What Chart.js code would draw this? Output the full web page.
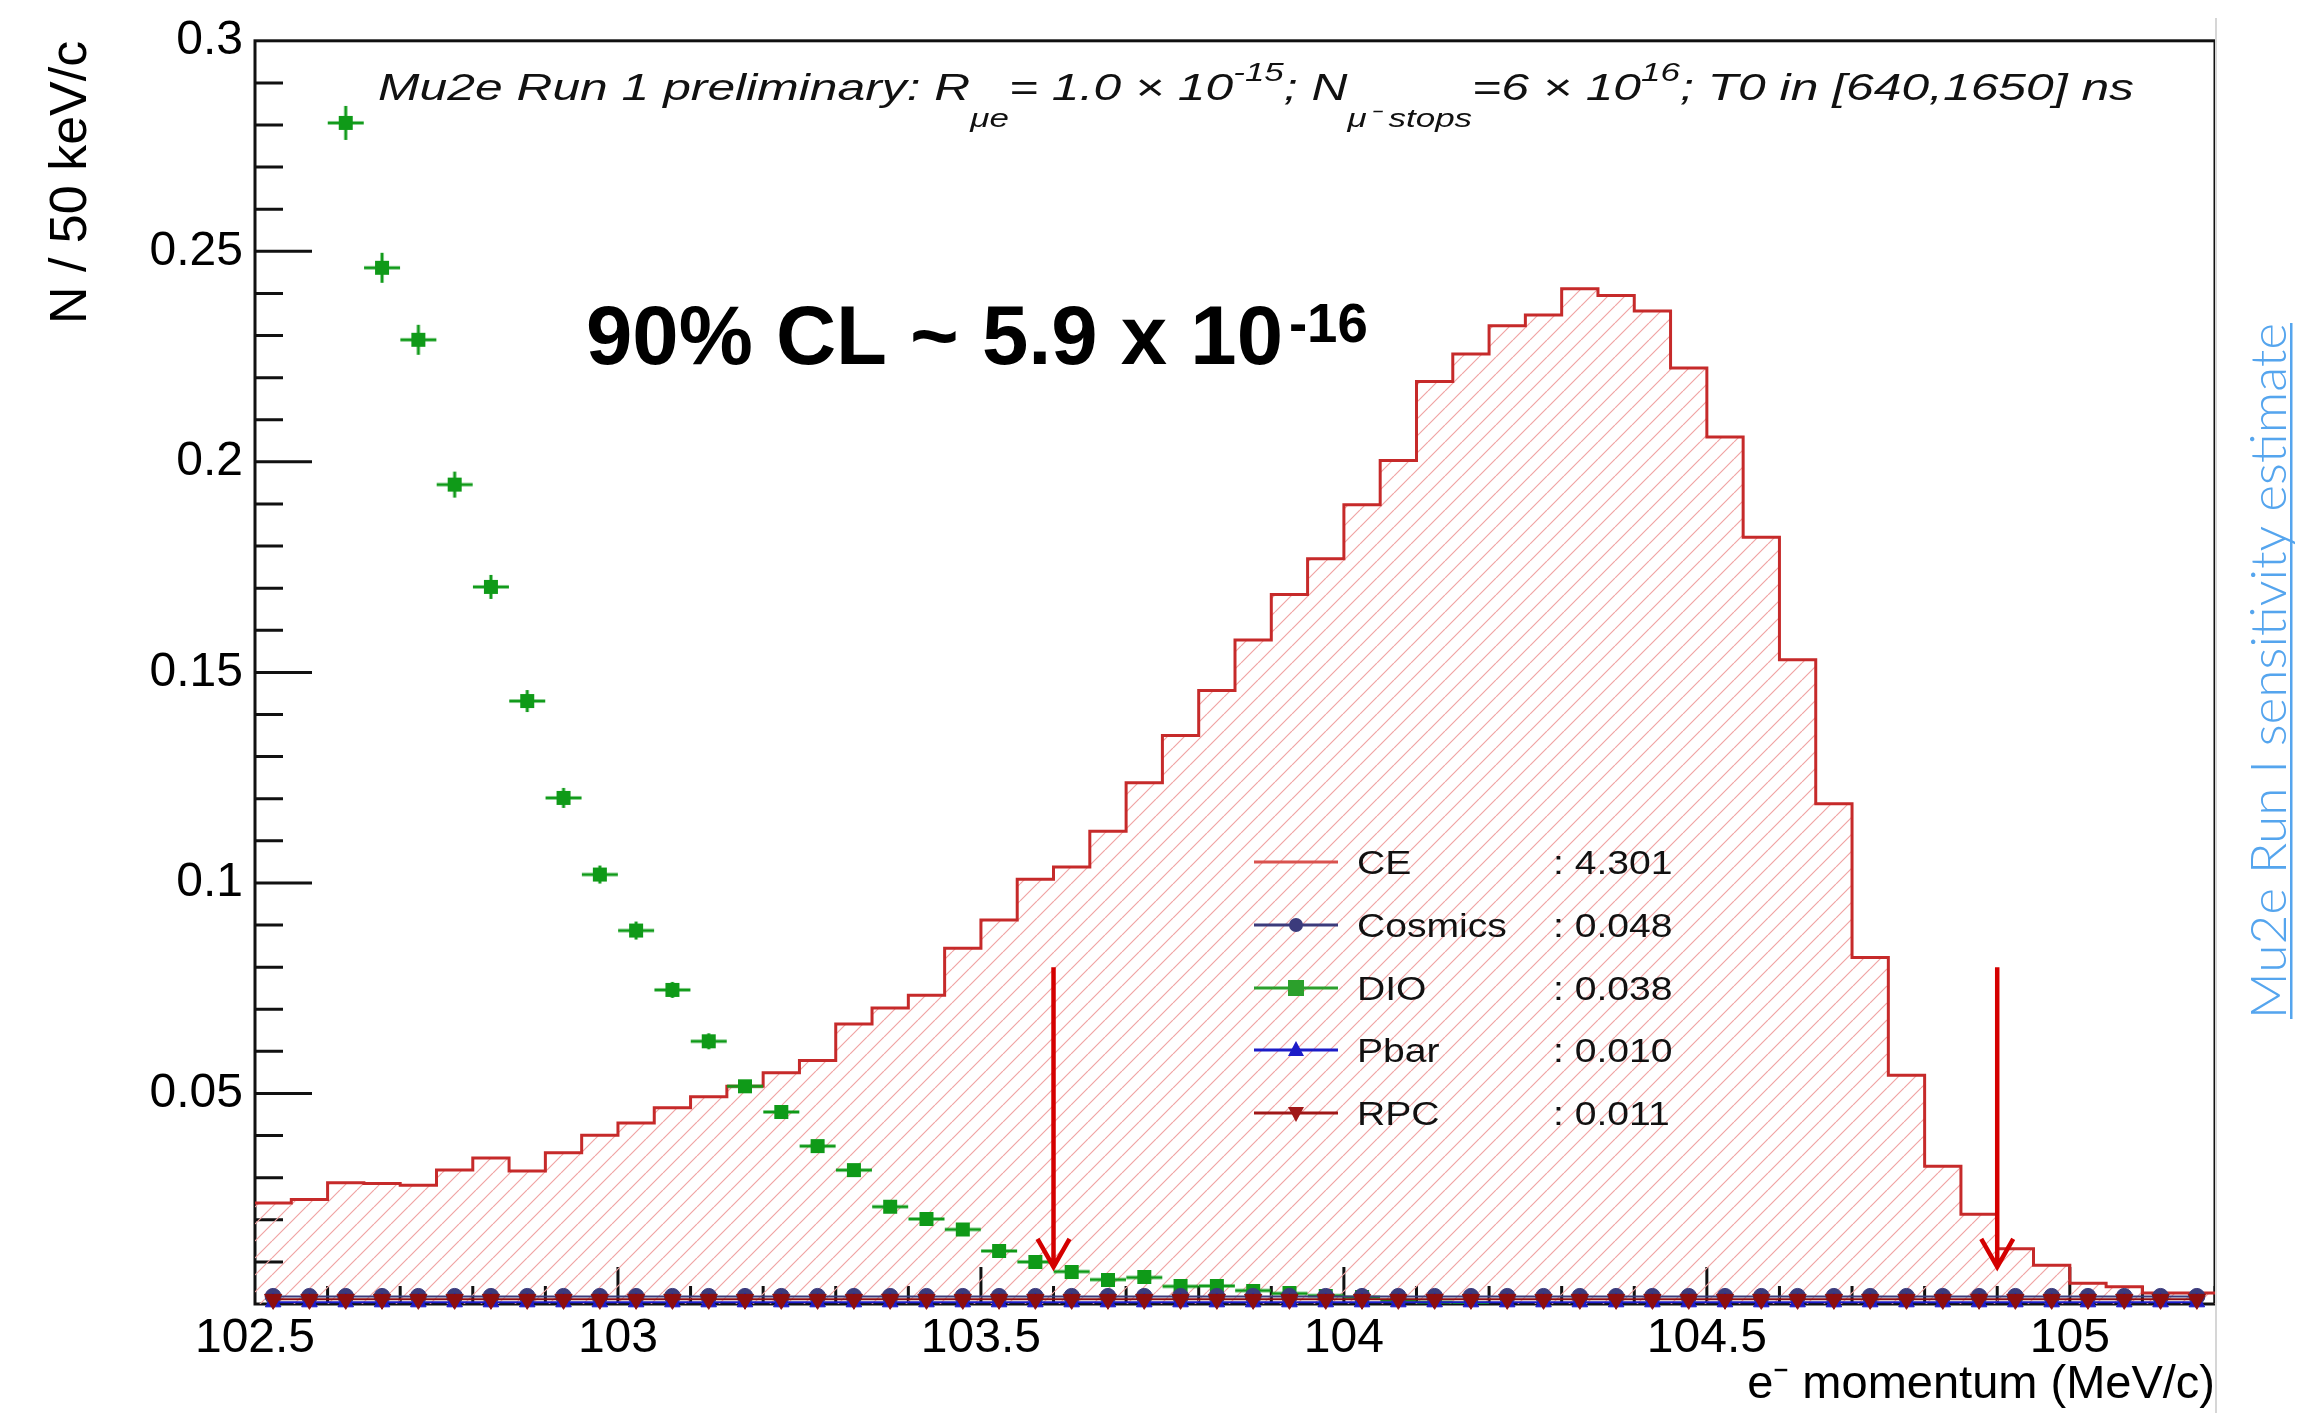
<!DOCTYPE html>
<html>
<head>
<meta charset="utf-8">
<script src="https://cdn.jsdelivr.net/npm/chart.js@4.4.1/dist/chart.umd.min.js"></script>
<style>
  html, body { margin: 0; padding: 0; background: #fff; }
  #wrap { width: 2300px; height: 1413px; }
</style>
</head>
<body>
<div id="wrap"><canvas id="chart" width="2300" height="1413"></canvas></div>
<script>
// binning: 50 keV bins from 102.5 MeV/c
const binLow = 102.5;
const binWidth = 0.05;

const ceValues = [
  0.0237, 0.0240, 0.0248, 0.0288, 0.0286, 0.0282, 0.0318, 0.0347, 0.0316, 0.0359,
  0.0401, 0.0430, 0.0466, 0.0492, 0.0517, 0.0549, 0.0578, 0.0665, 0.0703, 0.0733,
  0.0845, 0.0912, 0.1009, 0.1038, 0.1123, 0.1238, 0.1350, 0.1457, 0.1577, 0.1685,
  0.1770, 0.1898, 0.2003, 0.2191, 0.2256, 0.2323, 0.2349, 0.2411, 0.2395, 0.2358,
  0.2223, 0.2059, 0.1821, 0.1530, 0.1188, 0.0823, 0.0543, 0.0327, 0.0213, 0.0131,
  0.0092, 0.0049, 0.0041, 0.0026
];

const dioValues = [
  null, null, 0.2805, 0.2461, 0.2290, 0.1946, 0.1703, 0.1432, 0.1202, 0.1020,
  0.0887, 0.0746, 0.0624, 0.0517, 0.0456, 0.0375, 0.0318, 0.0231, 0.0202, 0.0177,
  0.0126, 0.0100, 0.0077, 0.0058, 0.0063, 0.0042, 0.0043, 0.0032, 0.0025, 0.0020,
  0.0016, 0.0008, 0.0004, 0.0002, null, null, null, null, null, null,
  null, null, null, null, null, null, null, null, null, null,
  null, null, null, null
];

const cosmicsValues = [
  0.0018, 0.0018, 0.0018, 0.0018, 0.0018, 0.0018, 0.0018, 0.0018, 0.0018, 0.0018,
  0.0018, 0.0018, 0.0018, 0.0018, 0.0018, 0.0018, 0.0018, 0.0018, 0.0018, 0.0018,
  0.0018, 0.0018, 0.0018, 0.0018, 0.0018, 0.0018, 0.0018, 0.0018, 0.0018, 0.0018,
  0.0018, 0.0018, 0.0018, 0.0018, 0.0018, 0.0018, 0.0018, 0.0018, 0.0018, 0.0018,
  0.0018, 0.0018, 0.0018, 0.0018, 0.0018, 0.0018, 0.0018, 0.0018, 0.0018, 0.0018,
  0.0018, 0.0018, 0.0018, 0.0018
];

const pbarValues = [
  0.0004, 0.0004, 0.0004, 0.0004, 0.0004, 0.0004, 0.0004, 0.0004, 0.0004, 0.0004,
  0.0004, 0.0004, 0.0004, 0.0004, 0.0004, 0.0004, 0.0004, 0.0004, 0.0004, 0.0004,
  0.0004, 0.0004, 0.0004, 0.0004, 0.0004, 0.0004, 0.0004, 0.0004, 0.0004, 0.0004,
  0.0004, 0.0004, 0.0004, 0.0004, 0.0004, 0.0004, 0.0004, 0.0004, 0.0004, 0.0004,
  0.0004, 0.0004, 0.0004, 0.0004, 0.0004, 0.0004, 0.0004, 0.0004, 0.0004, 0.0004,
  0.0004, 0.0004, 0.0004, 0.0004
];

const rpcValues = [
  0.0011, 0.0011, 0.0011, 0.0011, 0.0011, 0.0011, 0.0011, 0.0011, 0.0011, 0.0011,
  0.0011, 0.0011, 0.0011, 0.0011, 0.0011, 0.0011, 0.0011, 0.0011, 0.0011, 0.0011,
  0.0011, 0.0011, 0.0011, 0.0011, 0.0011, 0.0011, 0.0011, 0.0011, 0.0011, 0.0011,
  0.0011, 0.0011, 0.0011, 0.0011, 0.0011, 0.0011, 0.0011, 0.0011, 0.0011, 0.0011,
  0.0011, 0.0011, 0.0011, 0.0011, 0.0011, 0.0011, 0.0011, 0.0011, 0.0011, 0.0011,
  0.0011, 0.0011, 0.0011, 0.0011
];

const legendNames = ["CE", "Cosmics", "DIO", "Pbar", "RPC"];
const legendTotals = [": 4.301", ": 0.048", ": 0.038", ": 0.010", ": 0.011"];

// signal window arrows (momentum, top, tip)
const arrowX = [103.6, 104.9];
const arrowTop = 0.08;
const arrowTip = 0.0088;

const xTickValues = [102.5, 103, 103.5, 104, 104.5, 105];
const xTickLabels = ["102.5", "103", "103.5", "104", "104.5", "105"];
const yTickValues = [0, 0.05, 0.1, 0.15, 0.2, 0.25, 0.3];
const yTickLabels = ["", "0.05", "0.1", "0.15", "0.2", "0.25", "0.3"];

const xMin = 102.5, xMax = 105.2;
const yMin = 0, yMax = 0.3;

// ---------------------------------------------------------------

const FONT = "'Liberation Sans', Arial, Helvetica, sans-serif";
const GREEN = "#0f9a18";

const centers = (vals) => vals.map((v, i) => ({ x: binLow + (i + 0.5) * binWidth, y: v }));

// histogram edges for the stepped CE line
const ceData = ceValues.map((v, i) => ({ x: binLow + i * binWidth, y: v }));
ceData.push({ x: binLow + ceValues.length * binWidth, y: ceValues[ceValues.length - 1] });

const canvas = document.getElementById("chart");
const ctx0 = canvas.getContext("2d");

function makeHatch() {
  const s = 17;
  const c = document.createElement("canvas");
  c.width = s; c.height = s;
  const g = c.getContext("2d");
  g.strokeStyle = "#f0a4a4";
  g.lineWidth = 1.2;
  g.beginPath();
  g.moveTo(0, s); g.lineTo(s, 0);
  g.moveTo(-s, s); g.lineTo(0, 0);
  g.moveTo(s, s); g.lineTo(2 * s, 0);
  g.stroke();
  return ctx0.createPattern(c, "repeat");
}

// DIO marker: filled square with horizontal bin bar and vertical error bar
const dioCache = {};
function dioMarker(v) {
  const half = Math.round(5 + 42 * v);
  if (dioCache[half]) return dioCache[half];
  const w = 40, h = 2 * half + 4;
  const c = document.createElement("canvas");
  c.width = w; c.height = h;
  const g = c.getContext("2d");
  g.fillStyle = GREEN;
  g.strokeStyle = GREEN;
  g.lineWidth = 3;
  g.beginPath();
  g.moveTo(w / 2 - 18, h / 2); g.lineTo(w / 2 + 18, h / 2);
  g.moveTo(w / 2, h / 2 - half); g.lineTo(w / 2, h / 2 + half);
  g.stroke();
  g.fillRect(w / 2 - 7, h / 2 - 7, 14, 14);
  dioCache[half] = c;
  return c;
}

const framePlugin = {
  id: "frame",
  beforeDatasetsDraw(chart) {
    const { ctx, chartArea: a, scales: { x, y } } = chart;
    ctx.save();
    ctx.strokeStyle = "#111";
    ctx.lineWidth = 3;
    ctx.beginPath();
    for (let k = 1; k < 30; k++) {
      const py = y.getPixelForValue(k * 0.01);
      const len = k % 5 === 0 ? 57 : 28;
      ctx.moveTo(a.left, py); ctx.lineTo(a.left + len, py);
    }
    for (let k = 1; k <= 27; k++) {
      const px = x.getPixelForValue(xMin + k * 0.1);
      const len = k % 5 === 0 ? 37 : 18;
      ctx.moveTo(px, a.bottom); ctx.lineTo(px, a.bottom - len);
    }
    ctx.stroke();
    ctx.strokeRect(a.left, a.top, a.width, a.height);
    ctx.restore();

    // light border of the embedded picture
    ctx.save();
    ctx.strokeStyle = "#d6d6d6";
    ctx.lineWidth = 2;
    ctx.beginPath();
    ctx.moveTo(a.right + 1, 18); ctx.lineTo(a.right + 1, 1413);
    ctx.stroke();
    ctx.restore();
  }
};

const overlayPlugin = {
  id: "overlay",
  afterDatasetsDraw(chart) {
    const { ctx, scales: { x, y } } = chart;

    // arrows marking the momentum window
    ctx.save();
    ctx.strokeStyle = "#d40000";
    ctx.lineWidth = 4.5;
    arrowX.forEach((v) => {
      const px = x.getPixelForValue(v);
      const top = y.getPixelForValue(arrowTop);
      const tip = y.getPixelForValue(arrowTip);
      ctx.beginPath();
      ctx.moveTo(px, top); ctx.lineTo(px, tip);
      ctx.moveTo(px - 16, tip - 28); ctx.lineTo(px, tip); ctx.lineTo(px + 16, tip - 28);
      ctx.stroke();
    });
    ctx.restore();

    // legend
    const ds = chart.data.datasets;
    const rowY = [862, 925, 988, 1050, 1113];
    ctx.save();
    legendNames.forEach((name, i) => {
      const d = ds[i];
      const cy = rowY[i];
      ctx.strokeStyle = d.legendColor;
      ctx.lineWidth = 3;
      ctx.beginPath();
      ctx.moveTo(1254, cy); ctx.lineTo(1338, cy);
      ctx.stroke();
      ctx.fillStyle = d.legendColor;
      const mx = 1296;
      if (name === "Cosmics") {
        ctx.beginPath(); ctx.arc(mx, cy, 7, 0, Math.PI * 2); ctx.fill();
      } else if (name === "DIO") {
        ctx.fillRect(mx - 8, cy - 8, 16, 16);
      } else if (name === "Pbar") {
        ctx.beginPath(); ctx.moveTo(mx, cy - 9); ctx.lineTo(mx + 8, cy + 6); ctx.lineTo(mx - 8, cy + 6); ctx.closePath(); ctx.fill();
      } else if (name === "RPC") {
        ctx.beginPath(); ctx.moveTo(mx, cy + 9); ctx.lineTo(mx + 8, cy - 6); ctx.lineTo(mx - 8, cy - 6); ctx.closePath(); ctx.fill();
      }
      ctx.fillStyle = "#111";
      ctx.font = "34px " + FONT;
      ctx.textBaseline = "alphabetic";
      ctx.save();
      ctx.translate(1357, cy + 12);
      ctx.scale(1.15, 1);
      ctx.fillText(name, 0, 0);
      ctx.restore();
      ctx.save();
      ctx.translate(1553, cy + 12);
      ctx.scale(1.15, 1);
      ctx.fillText(legendTotals[i], 0, 0);
      ctx.restore();
    });
    ctx.restore();
  },
  afterDraw(chart) {
    const { ctx } = chart;

    // header line inside the frame
    const parts = [
      { t: "Mu2e Run 1 preliminary: R", m: 0 },
      { t: "\u03bce", m: -1 },
      { t: "= 1.0 \u00d7 10", m: 0 },
      { t: "-15", m: 1 },
      { t: "; N", m: 0 },
      { t: "\u03bc\u207b stops", m: -1 },
      { t: "=6 \u00d7 10", m: 0 },
      { t: "16", m: 1 },
      { t: "; T0 in [640,1650] ns", m: 0 }
    ];
    const big = "italic 37px " + FONT, small = "italic 26px " + FONT;
    let total = 0;
    parts.forEach((p) => { ctx.font = p.m ? small : big; p.w = ctx.measureText(p.t).width; total += p.w; });
    const sx = 1756 / total;
    ctx.save();
    ctx.fillStyle = "#111";
    ctx.translate(378, 100);
    ctx.scale(sx, 1);
    let cx = 0;
    parts.forEach((p) => {
      ctx.font = p.m ? small : big;
      const dy = p.m === 1 ? -19 : (p.m === -1 ? 27 : 0);
      ctx.fillText(p.t, cx, dy);
      cx += p.w;
    });
    ctx.restore();

    // big annotation
    ctx.save();
    ctx.fillStyle = "#000";
    ctx.font = "bold 84px " + FONT;
    const main = "90% CL ~ 5.9 x 10";
    const mw = ctx.measureText(main).width;
    const ms = 697 / mw;
    ctx.translate(586, 364);
    ctx.scale(ms, 1);
    ctx.fillText(main, 0, 0);
    ctx.font = "bold 55px " + FONT;
    ctx.fillText("-16", mw + 6, -22);
    ctx.restore();

    // vertical note on the right
    ctx.save();
    const note = "Mu2e Run I sensitivity estimate";
    ctx.font = "300 50px Lato, 'Open Sans', " + FONT;
    const nw = ctx.measureText(note).width;
    ctx.translate(2286, 671);
    ctx.rotate(-Math.PI / 2);
    ctx.scale(696 / nw, 1);
    ctx.fillStyle = "#55a5ee";
    ctx.textAlign = "center";
    ctx.fillText(note, 0, 0);
    ctx.fillRect(-nw / 2, 4, nw, 2.5);
    ctx.restore();
  }
};

Chart.defaults.font.family = FONT;
Chart.defaults.color = "#000";

const markerClip = { left: 0, right: 0, top: 0, bottom: 14 };

new Chart(canvas, {
  type: "line",
  data: {
    datasets: [
      {
        label: "CE",
        data: ceData,
        stepped: "after",
        borderColor: "#c62a2a",
        borderWidth: 3,
        pointRadius: 0,
        fill: "origin",
        backgroundColor: makeHatch(),
        legendColor: "#d9534f",
        order: 4
      },
      {
        label: "Cosmics",
        data: centers(cosmicsValues),
        borderColor: "#3b3b7c",
        backgroundColor: "#3b3b7c",
        borderWidth: 2,
        pointStyle: "circle",
        pointRadius: 8,
        pointBorderWidth: 1,
        legendColor: "#3b3b7c",
        clip: markerClip,
        order: 2
      },
      {
        label: "DIO",
        data: centers(dioValues),
        showLine: false,
        borderColor: GREEN,
        backgroundColor: GREEN,
        pointRadius: 8,
        pointStyle: (c) => dioMarker(c.raw && c.raw.y != null ? c.raw.y : 0),
        legendColor: "#2ca02c",
        order: 3
      },
      {
        label: "Pbar",
        data: centers(pbarValues),
        borderColor: "#1c1cc8",
        backgroundColor: "#1c1cc8",
        borderWidth: 2,
        pointStyle: "triangle",
        pointRadius: 9,
        pointBorderWidth: 1,
        legendColor: "#1c1cc8",
        clip: markerClip,
        order: 1
      },
      {
        label: "RPC",
        data: centers(rpcValues),
        borderColor: "#8e0e0e",
        backgroundColor: "#8e0e0e",
        borderWidth: 2,
        pointStyle: "triangle",
        pointRotation: 180,
        pointRadius: 10,
        pointBorderWidth: 1,
        legendColor: "#a01818",
        clip: markerClip,
        order: 0
      }
    ]
  },
  options: {
    responsive: false,
    devicePixelRatio: 1,
    animation: false,
    events: [],
    layout: { padding: { left: 0, right: 85, top: 38, bottom: 0 } },
    plugins: {
      legend: { display: false },
      tooltip: { enabled: false }
    },
    scales: {
      x: {
        type: "linear",
        min: xMin,
        max: xMax,
        afterBuildTicks: (s) => { s.ticks = xTickValues.map((v) => ({ value: v })); },
        afterFit: (s) => { s.height = 109; },
        grid: { display: false, drawTicks: false },
        border: { display: false },
        ticks: {
          font: { size: 48 },
          color: "#000",
          padding: 6,
          maxRotation: 0,
          autoSkip: false,
          callback: (v, i) => xTickLabels[i]
        },
        title: {
          display: true,
          text: "e\u207b momentum (MeV/c)",
          align: "end",
          font: { size: 47 },
          color: "#000",
          padding: { top: 0, bottom: 0 }
        }
      },
      y: {
        min: yMin,
        max: yMax,
        afterBuildTicks: (s) => { s.ticks = yTickValues.map((v) => ({ value: v })); },
        afterFit: (s) => { s.width = 255; },
        grid: { display: false, drawTicks: false },
        border: { display: false },
        ticks: {
          font: { size: 48 },
          color: "#000",
          padding: 12,
          autoSkip: false,
          callback: (v, i) => yTickLabels[i]
        },
        title: {
          display: true,
          text: "N / 50 keV/c",
          align: "end",
          font: { size: 52 },
          color: "#000",
          padding: { top: 40, bottom: 0 }
        }
      }
    }
  },
  plugins: [framePlugin, overlayPlugin]
});
</script>
</body>
</html>
